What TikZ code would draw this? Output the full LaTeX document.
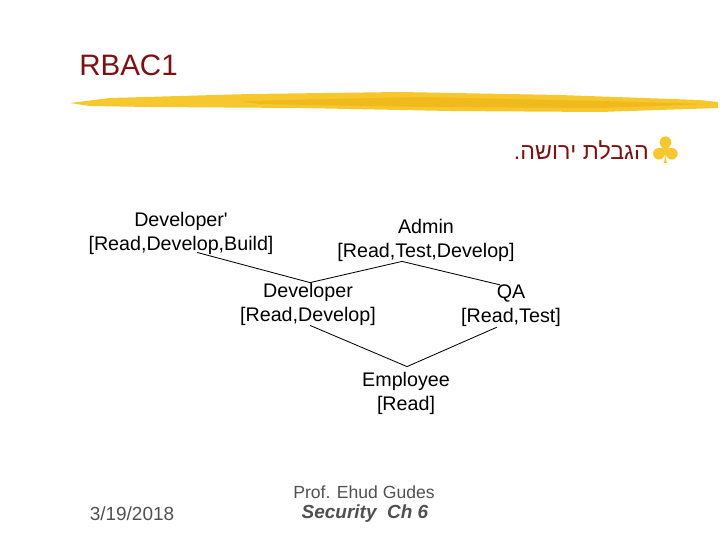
\documentclass[tikz,border=0pt]{standalone}
\usepackage{fontspec}
\setmainfont{Liberation Sans}
\newfontfamily\hebfont[Script=Hebrew]{Liberation Sans}
\newfontfamily\symfont{DejaVu Sans}
\TeXXeTstate=1
\usetikzlibrary{calc}
\definecolor{titlered}{RGB}{128,16,16}
\definecolor{brush}{RGB}{246,200,46}
\definecolor{brushdark}{RGB}{236,178,18}
\definecolor{footgray}{RGB}{80,80,80}
\tikzset{
    % roles of the hierarchy
    role/.style={
        align=center,
        inner sep=0pt,
        font=\fontsize{14}{17}\selectfont
    },
    link/.style={
        line width=0.6pt,
        black
    },
    foot/.style={
        inner sep=0pt,
        footgray,
        font=\fontsize{12.5}{15}\selectfont
    }
}

\begin{document}
\begin{tikzpicture}[x=0.025cm,y=-0.025cm]
	\useasboundingbox (0,0) rectangle (720,540);
	
	% title
	\node[anchor=base west,inner sep=0pt,titlered,font=\fontsize{21}{25}\selectfont] (title) at (79,75) {RBAC1};
	
	% yellow brush line
	\fill[brush] (70,103) -- (110,98) -- (250,94) -- (400,92) -- (560,95) -- (700,100) -- (718,102)
	  -- (718,108) -- (600,112) -- (450,111) -- (300,108) -- (150,107) -- (90,106) -- cycle;
	\fill[brushdark,opacity=0.6] (240,101) -- (420,97) -- (600,101) -- (710,104) -- (600,108) -- (420,107) -- (260,104) -- cycle;
	
	% bullet
	\node[anchor=west,inner sep=0pt,brush,font=\symfont\fontsize{26}{30}\selectfont] (club) at (649,150) {♣};
	\node[anchor=east,inner sep=0pt,titlered,font=\fontsize{16.5}{19}\selectfont] (bullet) at (649,150) {\hebfont\beginR הגבלת ירושה.\endR};
	
	% roles
	\node[role] (devp) at (181,233) {Developer\textquotesingle\\{}[Read,Develop,Build]};
	\node[role] (admin) at (426,240) {Admin\\{}[Read,Test,Develop]};
	\node[role] (dev) at (308,304) {Developer\\{}[Read,Develop]};
	\node[role] (qa) at (511,306) {QA\\{}[Read,Test]};
	\node[role] (emp) at (406,393) {Employee\\{}[Read]};
	
	% links
	\draw[link] ($(devp.south)+(16,-2)$) -- ($(dev.north)+(2,0)$);
	\draw[link] ($(admin.south)+(-24,0)$) -- ($(dev.north)+(2,0)$);
	\draw[link] ($(admin.south)+(-24,0)$) -- ($(qa.north)+(-11,0)$);
	\draw[link] ($(dev.south)+(2,0)$) -- ($(emp.north)+(1,-5)$);
	\draw[link] ($(qa.south)+(-14,0)$) -- ($(emp.north)+(1,-5)$);
	
	% footer
	\node[foot,font=\fontsize{13.5}{16}\selectfont] (date) at (132,514) {3/19/2018};
	\node[foot] (prof) at (364,492) {Prof. Ehud Gudes};
	\node[foot,font=\fontsize{13.5}{16}\selectfont\bfseries\itshape] (course) at (365,514) {Security\ \ Ch 6};
\end{tikzpicture}
\end{document}
